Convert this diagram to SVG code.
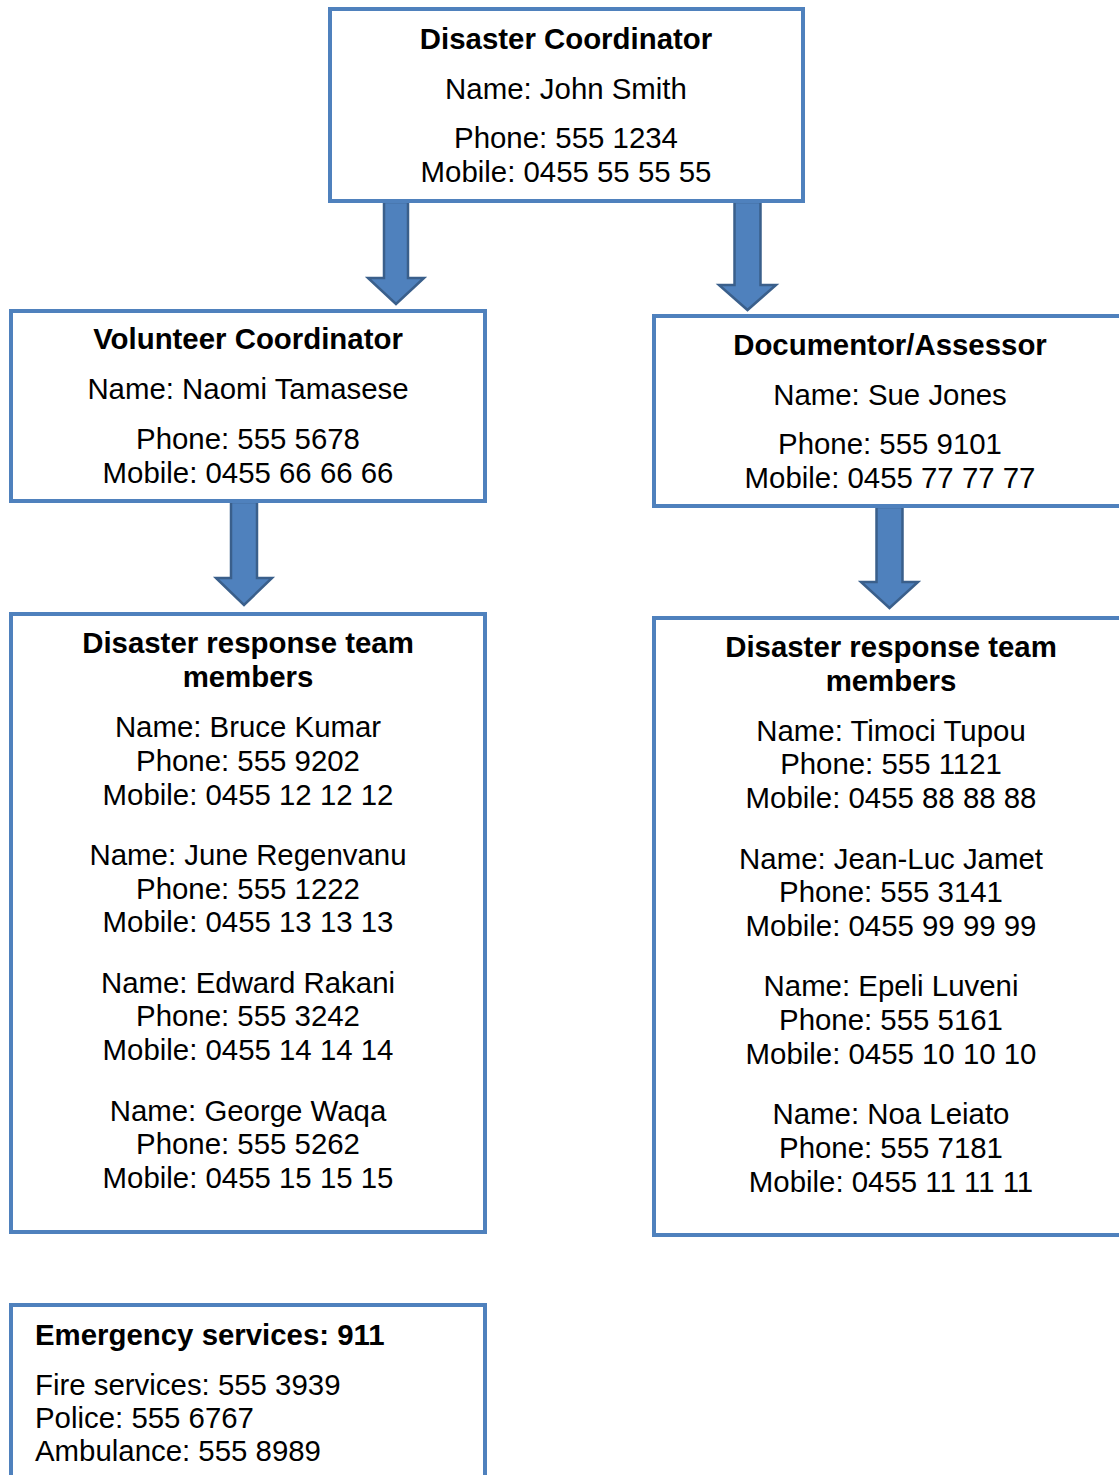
<svg xmlns="http://www.w3.org/2000/svg" width="1119" height="1475" viewBox="0 0 1119 1475">
<style>
.box{fill:#fff;stroke:#4F81BD;stroke-width:4}
.arr{fill:#4F81BD;stroke:#3A5F8B;stroke-width:2.5;stroke-linejoin:miter}
text{font-family:"Liberation Sans",Arial,sans-serif;font-size:29.4px;fill:#000}
.b{font-weight:bold}
.c{text-anchor:middle}
</style>
<g id="connectors">
<polygon class="arr" points="384,202 408,202 408,278 424,278 396,304 368,278 384,278"/>
<polygon class="arr" points="734.5,202 760.5,202 760.5,285 776,285 747.5,310 719,285 734.5,285"/>
<polygon class="arr" points="231,502 257,502 257,578 272,578 244,605 216,578 231,578"/>
<polygon class="arr" points="876.5,507 902.5,507 902.5,582 918,582 889.5,608 861,582 876.5,582"/>
</g>
<g id="disaster-coordinator">
<rect class="box" x="330" y="9" width="473" height="192"/>
<text class="c b" x="566" y="49">Disaster Coordinator</text>
<text class="c" x="566" y="99">Name: John Smith</text>
<text class="c" x="566" y="148">Phone: 555 1234</text>
<text class="c" x="566" y="182">Mobile: 0455 55 55 55</text>
</g>
<g id="volunteer-coordinator">
<rect class="box" x="11" y="311" width="474" height="190"/>
<text class="c b" x="248" y="349">Volunteer Coordinator</text>
<text class="c" x="248" y="399">Name: Naomi Tamasese</text>
<text class="c" x="248" y="449">Phone: 555 5678</text>
<text class="c" x="248" y="483">Mobile: 0455 66 66 66</text>
</g>
<g id="documentor-assessor">
<rect class="box" x="654" y="316" width="472" height="190"/>
<text class="c b" x="890" y="355">Documentor/Assessor</text>
<text class="c" x="890" y="405">Name: Sue Jones</text>
<text class="c" x="890" y="454">Phone: 555 9101</text>
<text class="c" x="890" y="488">Mobile: 0455 77 77 77</text>
</g>
<g id="team-left">
<rect class="box" x="11" y="614" width="474" height="618"/>
<text class="c b" x="248" y="653">Disaster response team</text>
<text class="c b" x="248" y="687">members</text>
<text class="c" x="248" y="737">Name: Bruce Kumar</text>
<text class="c" x="248" y="771">Phone: 555 9202</text>
<text class="c" x="248" y="805">Mobile: 0455 12 12 12</text>
<text class="c" x="248" y="865">Name: June Regenvanu</text>
<text class="c" x="248" y="899">Phone: 555 1222</text>
<text class="c" x="248" y="932">Mobile: 0455 13 13 13</text>
<text class="c" x="248" y="993">Name: Edward Rakani</text>
<text class="c" x="248" y="1026">Phone: 555 3242</text>
<text class="c" x="248" y="1060">Mobile: 0455 14 14 14</text>
<text class="c" x="248" y="1121">Name: George Waqa</text>
<text class="c" x="248" y="1154">Phone: 555 5262</text>
<text class="c" x="248" y="1188">Mobile: 0455 15 15 15</text>
</g>
<g id="team-right">
<rect class="box" x="654" y="618" width="472" height="617"/>
<text class="c b" x="891" y="657">Disaster response team</text>
<text class="c b" x="891" y="691">members</text>
<text class="c" x="891" y="741">Name: Timoci Tupou</text>
<text class="c" x="891" y="774">Phone: 555 1121</text>
<text class="c" x="891" y="808">Mobile: 0455 88 88 88</text>
<text class="c" x="891" y="869">Name: Jean-Luc Jamet</text>
<text class="c" x="891" y="902">Phone: 555 3141</text>
<text class="c" x="891" y="936">Mobile: 0455 99 99 99</text>
<text class="c" x="891" y="996">Name: Epeli Luveni</text>
<text class="c" x="891" y="1030">Phone: 555 5161</text>
<text class="c" x="891" y="1064">Mobile: 0455 10 10 10</text>
<text class="c" x="891" y="1124">Name: Noa Leiato</text>
<text class="c" x="891" y="1158">Phone: 555 7181</text>
<text class="c" x="891" y="1192">Mobile: 0455 11 11 11</text>
</g>
<g id="emergency-services">
<rect class="box" x="11" y="1305" width="474" height="200"/>
<text class="b" x="35" y="1345">Emergency services: 911</text>
<text x="35" y="1395">Fire services: 555 3939</text>
<text x="35" y="1428">Police: 555 6767</text>
<text x="35" y="1461">Ambulance: 555 8989</text>
</g>
</svg>
